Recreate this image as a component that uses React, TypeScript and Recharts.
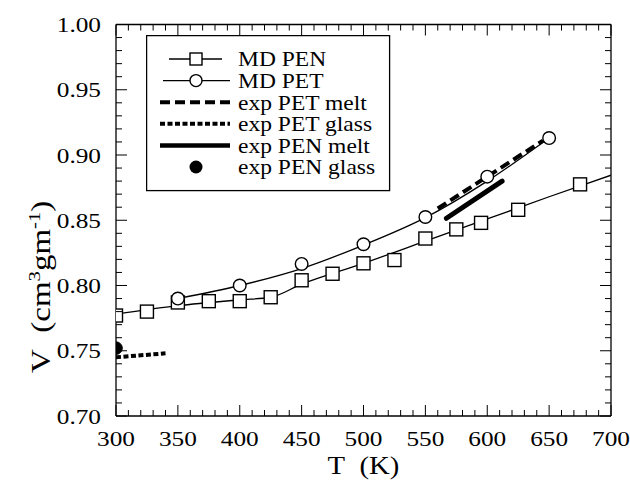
import React from 'react';
import { ComposedChart, Line, Scatter, XAxis, YAxis, Legend } from 'recharts';

const FONT = "'Liberation Serif', 'Times New Roman', serif";

// ---- data ----
const penT = [300, 325, 350, 375, 400, 425, 450, 475, 500, 525, 550, 575, 595, 625, 675];
const penV = [0.777, 0.780, 0.787, 0.788, 0.788, 0.791, 0.804, 0.809, 0.817, 0.8195, 0.836, 0.843, 0.848, 0.858, 0.8775];

const petT = [350, 400, 450, 500, 550, 600, 650];
const petV = [0.790, 0.800, 0.8165, 0.8316, 0.8525, 0.8834, 0.913];

const penFitT = [300, 350, 400, 425, 450, 500, 550, 600, 650, 700];
const penFitV = [0.778, 0.7845, 0.789, 0.791, 0.801, 0.817, 0.834, 0.851, 0.868, 0.8845];

const petFitT = [350, 400, 450, 500, 550, 600, 650];
const petFitV = [0.790, 0.800, 0.813, 0.831, 0.852, 0.880, 0.913];

const petMeltT = [560, 645];
const petMeltV = [0.859, 0.911];

const petGlassT = [300, 340];
const petGlassV = [0.745, 0.748];

const penMeltT = [567, 612];
const penMeltV = [0.8515, 0.880];

const penGlassT = [300];
const penGlassV = [0.752];

const xTicks = [
  300, 310, 320, 330, 340, 350, 360, 370, 380, 390,
  400, 410, 420, 430, 440, 450, 460, 470, 480, 490,
  500, 510, 520, 530, 540, 550, 560, 570, 580, 590,
  600, 610, 620, 630, 640, 650, 660, 670, 680, 690, 700,
];
const yTicks = [
  0.70, 0.71, 0.72, 0.73, 0.74, 0.75, 0.76, 0.77, 0.78, 0.79,
  0.80, 0.81, 0.82, 0.83, 0.84, 0.85, 0.86, 0.87, 0.88, 0.89,
  0.90, 0.91, 0.92, 0.93, 0.94, 0.95, 0.96, 0.97, 0.98, 0.99, 1.00,
];

const legendLabels = ['MD PEN', 'MD PET', 'exp PET melt', 'exp PET glass', 'exp PEN melt', 'exp PEN glass'];
const xTitle = 'T\u00a0\u00a0(K)';

const zip = (ts: number[], vs: number[]) => ts.map((T, i) => ({ T, v: vs[i] }));
const penPts = zip(penT, penV);
const petPts = zip(petT, petV);
const penFit = zip(penFitT, penFitV);
const petFit = zip(petFitT, petFitV);
const petMelt = zip(petMeltT, petMeltV);
const petGlass = zip(petGlassT, petGlassV);
const penMelt = zip(penMeltT, penMeltV);
const penGlass = zip(penGlassT, penGlassV);

// ---- styling ----
const TICK_FS = 22;
const TICK_SX = 1.15;
const X_MARGIN = 14;
const Y_MARGIN = 15;
const MAJOR = 11;
const MINOR = 6;

const isMajorX = (v: number) => Math.round(v) % 50 === 0;
const isMajorY = (v: number) => Math.round(v * 100) % 5 === 0;

function BottomTick(props: any) {
  const { x, y, payload } = props;
  const v = payload.value;
  const major = isMajorX(v);
  const ay = y - X_MARGIN;
  return (
    <g>
      <line x1={x} y1={ay} x2={x} y2={ay - (major ? MAJOR : MINOR)} stroke="#000" strokeWidth={1} />
      {major && (
        <text
          transform={`translate(${x},${y}) scale(${TICK_SX},1)`}
          x={0}
          y={0}
          dy="0.71em"
          textAnchor="middle"
          fontFamily={FONT}
          fontSize={TICK_FS}
          fill="#000"
        >
          {v}
        </text>
      )}
    </g>
  );
}

function TopTick(props: any) {
  const { x, y, payload } = props;
  const major = isMajorX(payload.value);
  return <line x1={x} y1={y} x2={x} y2={y + (major ? MAJOR : MINOR)} stroke="#000" strokeWidth={1} />;
}

function LeftTick(props: any) {
  const { x, y, payload } = props;
  const v = payload.value;
  const major = isMajorY(v);
  const ax = x + Y_MARGIN;
  return (
    <g>
      <line x1={ax} y1={y} x2={ax + (major ? MAJOR : MINOR)} y2={y} stroke="#000" strokeWidth={1} />
      {major && (
        <text
          transform={`translate(${x},${y}) scale(${TICK_SX},1)`}
          x={0}
          y={0}
          dy="0.35em"
          textAnchor="end"
          fontFamily={FONT}
          fontSize={TICK_FS}
          fill="#000"
        >
          {v.toFixed(2)}
        </text>
      )}
    </g>
  );
}

function RightTick(props: any) {
  const { x, y, payload } = props;
  const major = isMajorY(payload.value);
  return <line x1={x} y1={y} x2={x - (major ? MAJOR : MINOR)} y2={y} stroke="#000" strokeWidth={1} />;
}

function XTitle(props: any) {
  const vb = props.viewBox || { x: 116, y: 416, width: 495, height: 45 };
  const cx = vb.x + vb.width / 2;
  const cy = vb.y + 58;
  return (
    <text
      transform={`translate(${cx},${cy}) scale(1.15,1)`}
      x={0}
      y={0}
      textAnchor="middle"
      fontFamily={FONT}
      fontSize={25}
      fill="#000"
    >
      {xTitle}
    </text>
  );
}

function YTitle(props: any) {
  const vb = props.viewBox || { x: 56, y: 24.5, width: 60, height: 391.5 };
  const cx = vb.x - 15;
  const cy = vb.y + vb.height * 0.67;
  return (
    <text
      transform={`translate(${cx},${cy}) rotate(-90) scale(1.22,1)`}
      x={0}
      y={0}
      dy="0.35em"
      textAnchor="middle"
      fontFamily={FONT}
      fontSize={27}
      fill="#000"
    >
      {'V\u00a0\u00a0(cm'}
      <tspan dy={-10} fontSize={17}>3</tspan>
      <tspan dy={10}>gm</tspan>
      <tspan dy={-10} fontSize={17}>-1</tspan>
      <tspan dy={10}>)</tspan>
    </text>
  );
}

const SquareShape = (p: any) => (
  <rect x={p.cx - 6.5} y={p.cy - 6.5} width={13} height={13} fill="#fff" stroke="#000" strokeWidth={1.4} />
);
const CircleShape = (p: any) => <circle cx={p.cx} cy={p.cy} r={6.3} fill="#fff" stroke="#000" strokeWidth={1.4} />;
const DotShape = (p: any) => <circle cx={p.cx} cy={p.cy} r={6.3} fill="#000" stroke="#000" strokeWidth={1} />;

function LegendBox() {
  const W = 243;
  const H = 155;
  const rowY = (i: number) => 24 + i * 21.6;
  const tx = 92;
  return (
    <svg width={W + 2} height={H + 2} style={{ display: 'block' }}>
      <rect x={0.6} y={0.6} width={W} height={H} fill="#fff" stroke="#000" strokeWidth={1.3} />
      {/* MD PEN */}
      <line x1={23} y1={rowY(0)} x2={76} y2={rowY(0)} stroke="#000" strokeWidth={1.3} />
      <rect x={50 - 6} y={rowY(0) - 6} width={12} height={12} fill="#fff" stroke="#000" strokeWidth={1.4} />
      {/* MD PET */}
      <line x1={17} y1={rowY(1)} x2={84} y2={rowY(1)} stroke="#000" strokeWidth={1.3} />
      <circle cx={50} cy={rowY(1)} r={6} fill="#fff" stroke="#000" strokeWidth={1.4} />
      {/* exp PET melt */}
      <line x1={14} y1={rowY(2)} x2={84} y2={rowY(2)} stroke="#000" strokeWidth={4} strokeDasharray="10 5" />
      {/* exp PET glass */}
      <line x1={14} y1={rowY(3)} x2={84} y2={rowY(3)} stroke="#000" strokeWidth={4} strokeDasharray="5 2.5" />
      {/* exp PEN melt */}
      <line x1={14} y1={rowY(4)} x2={84} y2={rowY(4)} stroke="#000" strokeWidth={4.5} />
      {/* exp PEN glass */}
      <circle cx={50} cy={rowY(5)} r={6.5} fill="#000" />
      {legendLabels.map((t, i) => (
        <text
          key={t}
          transform={`translate(${tx},${rowY(i)}) scale(1.12,1)`}
          x={0}
          y={0}
          dy="0.35em"
          fontFamily={FONT}
          fontSize={21}
          fill="#000"
        >
          {t}
        </text>
      ))}
    </svg>
  );
}

export default function App() {
  const axisLine = { stroke: '#000', strokeWidth: 1.3 };
  return (
    <div style={{ position: 'absolute', left: 0, top: 0, width: 630, height: 481, background: '#fff' }}>
      <ComposedChart width={630} height={481} margin={{ top: 23.5, right: 18, bottom: 20, left: 56 }}>
        <XAxis
          xAxisId="x"
          type="number"
          dataKey="T"
          domain={[300, 700]}
          ticks={xTicks}
          interval={0}
          tickLine={false}
          tickSize={0}
          tickMargin={X_MARGIN}
          tick={(p: any) => <BottomTick {...p} />}
          axisLine={axisLine}
          height={45}
          allowDataOverflow
          label={<XTitle />}
        />
        <XAxis
          xAxisId="top"
          orientation="top"
          type="number"
          dataKey="T"
          domain={[300, 700]}
          ticks={xTicks}
          interval={0}
          tickLine={false}
          tickSize={0}
          tickMargin={0}
          tick={(p: any) => <TopTick {...p} />}
          axisLine={axisLine}
          height={1}
          allowDataOverflow
        />
        <YAxis
          yAxisId="y"
          type="number"
          dataKey="v"
          domain={[0.7, 1.0]}
          ticks={yTicks}
          interval={0}
          tickLine={false}
          tickSize={0}
          tickMargin={Y_MARGIN}
          tick={(p: any) => <LeftTick {...p} />}
          axisLine={axisLine}
          width={60}
          allowDataOverflow
          label={<YTitle />}
        />
        <YAxis
          yAxisId="right"
          orientation="right"
          type="number"
          dataKey="v"
          domain={[0.7, 1.0]}
          ticks={yTicks}
          interval={0}
          tickLine={false}
          tickSize={0}
          tickMargin={0}
          tick={(p: any) => <RightTick {...p} />}
          axisLine={axisLine}
          width={1}
          allowDataOverflow
        />
        <Legend
          layout="vertical"
          align="center"
          verticalAlign="middle"
          wrapperStyle={{ left: 146, top: 35, width: 246, height: 158 }}
          content={() => <LegendBox />}
        />
        <Line xAxisId="x" yAxisId="y" data={penFit} dataKey="v" type="monotone" stroke="#000" strokeWidth={1.3} dot={false} isAnimationActive={false} />
        <Line xAxisId="x" yAxisId="y" data={petFit} dataKey="v" type="monotone" stroke="#000" strokeWidth={1.3} dot={false} isAnimationActive={false} />
        <Line xAxisId="x" yAxisId="y" data={petMelt} dataKey="v" type="linear" stroke="#000" strokeWidth={4} strokeDasharray="10 5" dot={false} isAnimationActive={false} />
        <Line xAxisId="x" yAxisId="y" data={petGlass} dataKey="v" type="linear" stroke="#000" strokeWidth={4} strokeDasharray="5 2.5" dot={false} isAnimationActive={false} />
        <Line xAxisId="x" yAxisId="y" data={penMelt} dataKey="v" type="linear" stroke="#000" strokeWidth={5} strokeLinecap="round" dot={false} isAnimationActive={false} />
        <Scatter xAxisId="x" yAxisId="y" data={penPts} dataKey="v" shape={SquareShape} isAnimationActive={false} />
        <Scatter xAxisId="x" yAxisId="y" data={petPts} dataKey="v" shape={CircleShape} isAnimationActive={false} />
        <Scatter xAxisId="x" yAxisId="y" data={penGlass} dataKey="v" shape={DotShape} isAnimationActive={false} />
      </ComposedChart>
    </div>
  );
}
